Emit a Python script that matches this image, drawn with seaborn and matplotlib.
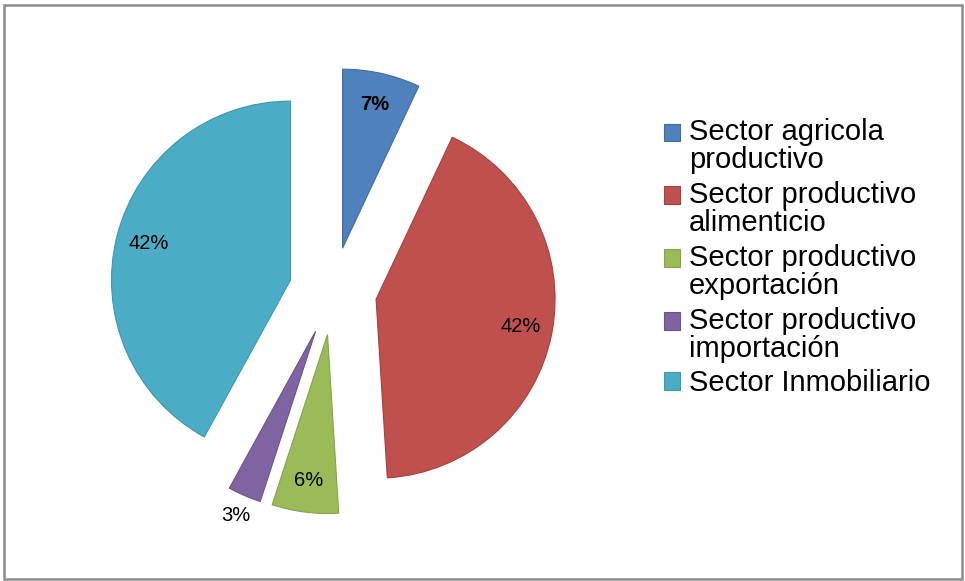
import numpy as np
import matplotlib
matplotlib.use("Agg")
import matplotlib.pyplot as plt
from matplotlib.patches import Rectangle
from matplotlib.legend_handler import HandlerPatch
import seaborn as sns

sns.set_theme(style="white")
plt.rcParams['font.family'] = ['Liberation Sans', 'DejaVu Sans']

# Data
sectors = [
    "Sector agricola\nproductivo",
    "Sector productivo\nalimenticio",
    "Sector productivo\nexportación",
    "Sector productivo\nimportación",
    "Sector Inmobiliario",
]
shares = [7, 42, 6, 3, 42]
palette = sns.color_palette(["#4F81BD", "#C0504D", "#9BBB59", "#8064A2", "#4BACC6"])
edges = ["#3E6DA6", "#A8403D", "#86A448", "#6B528C", "#3C97AF"]

W, H = 965, 581
fig = plt.figure(figsize=(W / 100, H / 100), dpi=100)

# Square axes centred on the pie
cx, cy, half = 333, 291, 255
ax = fig.add_axes([(cx - half) / W, (H - cy - half) / H, 2 * half / W, 2 * half / H])

wedges, texts, autotexts = ax.pie(
    shares,
    colors=palette,
    explode=[0.245] * len(shares),
    startangle=90,
    counterclock=False,
    autopct=lambda p: f"{p:.0f}%",
    pctdistance=0.82,
    wedgeprops=dict(linewidth=0.8),
    textprops=dict(fontsize=14.5, color="black"),
)
for w, ec in zip(wedges, edges):
    w.set_edgecolor(ec)

autotexts[0].set_fontweight("bold")

# small slice: label sits just outside the wedge
w = wedges[3]
mid = np.deg2rad((w.theta1 + w.theta2) / 2)
autotexts[3].set_position((w.center[0] + 1.12 * w.r * np.cos(mid),
                           w.center[1] + 1.12 * w.r * np.sin(mid)))

lim = half / 179
ax.set_xlim(-lim, lim)
ax.set_ylim(-lim, lim)
ax.set_aspect("equal")
ax.axis("off")


class TopSquare(HandlerPatch):
    def create_artists(self, legend, orig_handle, xdescent, ydescent,
                       width, height, fontsize, trans):
        shift = 0.5 * fontsize if "\n" in orig_handle.get_label() else 0
        p = Rectangle((-xdescent, -ydescent + shift), width, height,
                      facecolor=orig_handle.get_facecolor(),
                      edgecolor=orig_handle.get_edgecolor(), linewidth=0.8)
        p.set_transform(trans)
        return [p]


for w, lab in zip(wedges, sectors):
    w.set_label(lab)

leg = fig.legend(
    wedges, sectors,
    loc="upper left",
    bbox_to_anchor=(664 / W, 1 - 118 / H),
    frameon=False,
    fontsize=21,
    labelcolor="black",
    handlelength=0.55,
    handleheight=0.55,
    handletextpad=0.3,
    labelspacing=0.22,
    borderpad=0,
    borderaxespad=0,
    handler_map={w: TopSquare() for w in wedges},
)
for t in leg.get_texts():
    t.set_linespacing(1.02)

# Outer frame
fig.patches.append(Rectangle((3.5 / W, 2.5 / H), (W - 7) / W, (H - 7.5) / H,
                             transform=fig.transFigure, fill=False,
                             edgecolor="#8C8C8C", linewidth=1.8))

fig.savefig("out.png", dpi=100, facecolor="white")
